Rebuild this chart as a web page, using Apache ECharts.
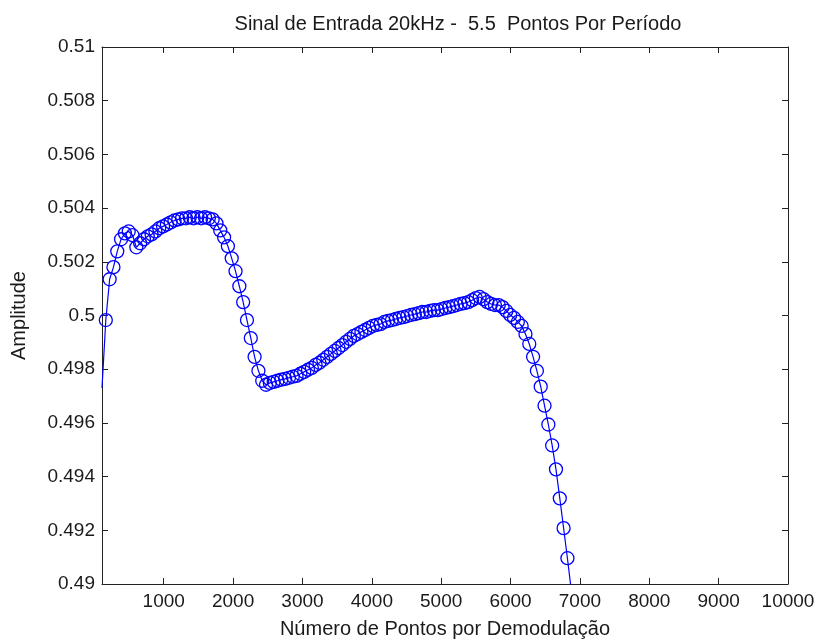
<!DOCTYPE html>
<html>
<head>
<meta charset="utf-8">
<title>Sinal de Entrada 20kHz</title>
<script src="https://cdn.jsdelivr.net/npm/echarts@6/dist/echarts.min.js"></script>
<style>
  html, body { margin: 0; padding: 0; background: #ffffff; }
  #chart { width: 819px; height: 644px; }
</style>
</head>
<body>
<div id="chart"></div>
<script>
// Number of points per demodulation (x) and the measured amplitude (y)
const pontos = [
  110, 165, 220, 275, 330, 385, 440, 495, 550, 605,
  660, 715, 770, 825, 880, 935, 990, 1045, 1100, 1155,
  1210, 1265, 1320, 1375, 1430, 1485, 1540, 1595, 1650, 1705,
  1760, 1815, 1870, 1925, 1980, 2035, 2090, 2145, 2200, 2255,
  2310, 2365, 2420, 2475, 2530, 2585, 2640, 2695, 2750, 2805,
  2860, 2915, 2970, 3025, 3080, 3135, 3190, 3245, 3300, 3355,
  3410, 3465, 3520, 3575, 3630, 3685, 3740, 3795, 3850, 3905,
  3960, 4015, 4070, 4125, 4180, 4235, 4290, 4345, 4400, 4455,
  4510, 4565, 4620, 4675, 4730, 4785, 4840, 4895, 4950, 5005,
  5060, 5115, 5170, 5225, 5280, 5335, 5390, 5445, 5500, 5555,
  5610, 5665, 5720, 5775, 5830, 5885, 5940, 5995, 6050, 6105,
  6160, 6215, 6270, 6325, 6380, 6435, 6490, 6545, 6600, 6655,
  6710, 6765, 6820, 6875
];

const amplitude = [
  0.49730, 0.49983, 0.50135, 0.50180, 0.50239, 0.50284, 0.50306, 0.50313, 0.50299, 0.50254,
  0.50269, 0.50284, 0.50295, 0.50302, 0.50313, 0.50325, 0.50332, 0.50339, 0.50347, 0.50354,
  0.50358, 0.50362, 0.50362, 0.50366, 0.50362, 0.50366, 0.50362, 0.50366, 0.50362, 0.50358,
  0.50343, 0.50317, 0.50291, 0.50258, 0.50213, 0.50165, 0.50109, 0.50050, 0.49983, 0.49916,
  0.49846, 0.49794, 0.49757, 0.49742, 0.49749, 0.49753, 0.49757, 0.49761, 0.49764, 0.49768,
  0.49772, 0.49775, 0.49783, 0.49790, 0.49798, 0.49805, 0.49816, 0.49824, 0.49835, 0.49846,
  0.49857, 0.49868, 0.49879, 0.49890, 0.49902, 0.49913, 0.49924, 0.49931, 0.49939, 0.49946,
  0.49954, 0.49961, 0.49965, 0.49968, 0.49976, 0.49980, 0.49983, 0.49987, 0.49991, 0.49994,
  0.49998, 0.50002, 0.50005, 0.50009, 0.50013, 0.50013, 0.50017, 0.50020, 0.50020, 0.50024,
  0.50028, 0.50031, 0.50035, 0.50039, 0.50043, 0.50046, 0.50050, 0.50057, 0.50065, 0.50069,
  0.50061, 0.50050, 0.50043, 0.50039, 0.50039, 0.50031, 0.50017, 0.50002, 0.49991, 0.49976,
  0.49961, 0.49931, 0.49894, 0.49846, 0.49794, 0.49735, 0.49664, 0.49594, 0.49516, 0.49427,
  0.49319, 0.49208, 0.49096, 0.48978
];

const ticksX = [1000, 2000, 3000, 4000, 5000, 6000, 7000, 8000, 9000, 10000];
const ticksY = [0.49, 0.492, 0.494, 0.496, 0.498, 0.5, 0.502, 0.504, 0.506, 0.508, 0.51];

const titulo = 'Sinal de Entrada 20kHz -  5.5  Pontos Por Período';
const nomeX = 'Número de Pontos por Demodulação';
const nomeY = 'Amplitude';

const FONT = "'Liberation Sans', Arial, Helvetica, sans-serif";
const TXT = '#1a1a1a';
const AX = '#222222';

const serie = pontos.map(function (x, i) {
  const item = { value: [x, amplitude[i]] };
  if (i === 0) item.symbol = 'none';
  return item;
});

const fmtX = function (v) { return String(Math.round(v)); };
const fmtY = function (v) { return String(parseFloat(Number(v).toFixed(3))); };

function eixoX(pos, mostrarRotulos) {
  return {
    type: 'value',
    position: pos,
    min: 110,
    max: 10000,
    axisLine: { show: true, onZero: false, lineStyle: { color: AX, width: 1 } },
    axisTick: { show: true, inside: true, length: 6, customValues: ticksX, lineStyle: { color: AX } },
    axisLabel: {
      show: mostrarRotulos, customValues: ticksX, margin: 8, formatter: fmtX,
      color: TXT, fontFamily: FONT, fontSize: 19
    },
    splitLine: { show: false },
    name: mostrarRotulos ? nomeX : '',
    nameLocation: 'middle',
    nameGap: 35,
    nameTextStyle: { color: TXT, fontFamily: FONT, fontSize: 20 }
  };
}

function eixoY(pos, mostrarRotulos) {
  return {
    type: 'value',
    position: pos,
    min: 0.49,
    max: 0.51,
    axisLine: { show: true, onZero: false, lineStyle: { color: AX, width: 1 } },
    axisTick: { show: true, inside: true, length: 6, customValues: ticksY, lineStyle: { color: AX } },
    axisLabel: {
      show: mostrarRotulos, customValues: ticksY, margin: 7,
      formatter: fmtY, color: TXT, fontFamily: FONT, fontSize: 19
    },
    splitLine: { show: false },
    name: mostrarRotulos ? nomeY : '',
    nameLocation: 'middle',
    nameGap: 73,
    nameTextStyle: { color: TXT, fontFamily: FONT, fontSize: 20 }
  };
}

const chart = echarts.init(document.getElementById('chart'), null, { renderer: 'canvas' });
chart.setOption({
  backgroundColor: '#ffffff',
  animation: false,
  title: {
    text: titulo,
    left: 453,
    top: 9,
    textAlign: 'center',
    textStyle: { color: TXT, fontFamily: FONT, fontSize: 20, fontWeight: 'normal' }
  },
  grid: { left: 102, right: 31, top: 47, bottom: 57, containLabel: false },
  xAxis: [eixoX('bottom', true), eixoX('top', false)],
  yAxis: [eixoY('left', true), eixoY('right', false)],
  series: [{
    type: 'line',
    xAxisIndex: 0,
    yAxisIndex: 0,
    data: serie,
    clip: true,
    symbol: 'circle',
    symbolSize: 13,
    showAllSymbol: true,
    lineStyle: { color: '#0000ff', width: 1.2 },
    itemStyle: { color: 'rgba(0,0,0,0)', borderColor: '#0000ff', borderWidth: 1.3 }
  }]
});
</script>
</body>
</html>
